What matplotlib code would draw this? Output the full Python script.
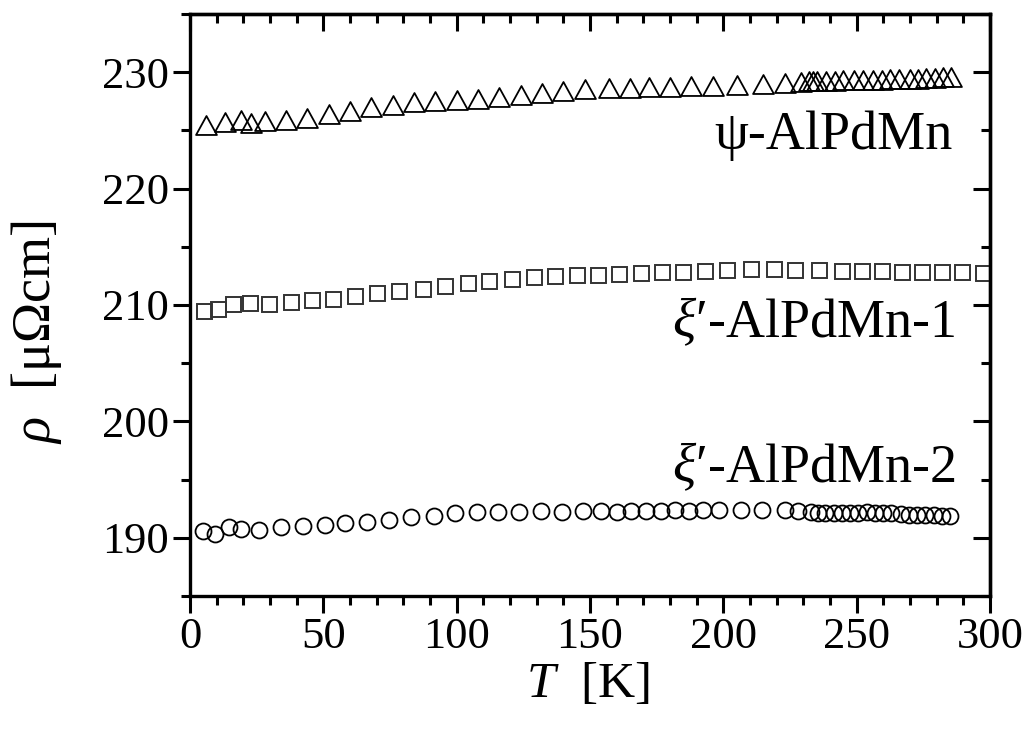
import matplotlib
matplotlib.use("Agg")
import matplotlib.pyplot as plt
from matplotlib.ticker import MultipleLocator
from matplotlib.path import Path

plt.rcParams['font.family'] = ['Liberation Serif', 'DejaVu Serif']
plt.rcParams['mathtext.fontset'] = 'custom'
plt.rcParams['mathtext.rm'] = 'Liberation Serif'
plt.rcParams['mathtext.it'] = 'Liberation Serif:italic'

# psi-AlPdMn (triangles)
T_psi = [6, 13, 19, 23, 28, 36, 44, 52, 60, 68, 76, 84, 92, 100, 108, 116, 124, 132, 140, 148,
         157, 165, 172, 180, 188, 196, 205, 215, 223, 229, 232, 233.5, 235, 238.5, 242, 245,
         249, 252.5, 256, 259.5, 262.5, 266, 270, 273, 276, 279.5, 282.5, 285.5]
rho_psi = [225.5, 225.7, 225.9, 225.65, 225.8, 225.9, 226.1, 226.4, 226.7, 227.0, 227.2, 227.4,
           227.5, 227.6, 227.7, 227.9, 228.0, 228.2, 228.4, 228.55,
           228.6, 228.65, 228.7, 228.75, 228.8, 228.85, 228.9, 229.0, 229.1, 229.15, 229.2, 229.2,
           229.2, 229.25, 229.25, 229.3, 229.3, 229.3, 229.35, 229.35, 229.4, 229.4, 229.45,
           229.45, 229.5, 229.5, 229.55, 229.55]

# xi'-AlPdMn-1 (squares)
T_xi1 = [5.4, 10.6, 16.2, 22.5, 29.5, 37.9, 45.7, 53.7, 61.9, 70.1, 78.3, 87.5, 95.6, 104.4,
         112.1, 120.9, 128.9, 136.9, 145, 153, 161, 169, 177, 185, 193, 201.5, 210.5, 219,
         227, 236, 244.5, 252, 259.5, 267, 274.5, 282, 289.5, 297.5]
rho_xi1 = [209.45, 209.65, 210.1, 210.15, 210.05, 210.3, 210.4, 210.55, 210.8, 211.0, 211.2,
           211.4, 211.6, 211.9, 212.05, 212.25, 212.4, 212.5, 212.55, 212.6, 212.7, 212.75,
           212.8, 212.85, 212.9, 213.0, 213.05, 213.05, 213.0, 213.0, 212.95, 212.9, 212.9,
           212.85, 212.85, 212.8, 212.8, 212.75]

# xi'-AlPdMn-2 (circles)
T_xi2 = [5, 9.5, 14.5, 19, 26, 34, 42.5, 50.5, 58, 66.5, 74.5, 83, 91.5, 99.5, 107.5, 115.5,
         123.5, 131.5, 139.5, 147.5, 154, 160, 165.5, 171, 176.5, 182, 187, 192.5, 198.5,
         206.5, 214.5, 223, 228, 233, 235.5, 238, 241.5, 244.5, 247.5, 250.5, 254, 257, 260,
         263, 266.5, 269.5, 272.5, 275.5, 279, 282, 285]
rho_xi2 = [190.55, 190.3, 190.9, 190.75, 190.7, 190.95, 191.05, 191.1, 191.3, 191.4, 191.55,
           191.75, 191.9, 192.1, 192.25, 192.2, 192.25, 192.3, 192.25, 192.3, 192.3, 192.25,
           192.3, 192.3, 192.3, 192.35, 192.3, 192.35, 192.35, 192.4, 192.4, 192.4, 192.3,
           192.2, 192.15, 192.15, 192.1, 192.1, 192.1, 192.15, 192.2, 192.15, 192.1, 192.1,
           192.05, 192.0, 192.0, 191.95, 191.95, 191.9, 191.9]

labels = ["ψ-AlPdMn", r"$\xi$′-AlPdMn-1", r"$\xi$′-AlPdMn-2"]
label_pos = [(286, 223.4), (287, 207.25), (287, 194.75)]

fig = plt.figure(figsize=(10.26, 7.36), dpi=100)
ax = fig.add_axes([0.1852, 0.1902, 0.7797, 0.7908])

tri = Path([(-1.1, -1.0), (1.1, -1.0), (0.0, 1.0), (-1.1, -1.0)],
           [Path.MOVETO, Path.LINETO, Path.LINETO, Path.CLOSEPOLY])
ax.plot(T_psi, rho_psi, linestyle='none', marker=tri, ms=15, mfc='none', mec='black', mew=1.3)
ax.plot(T_xi1, rho_xi1, linestyle='none', marker='s', ms=10.8, mfc='none', mec='#333333', mew=1.4)
ax.plot(T_xi2, rho_xi2, linestyle='none', marker='o', ms=11.5, mfc='none', mec='black', mew=1.3)

for txt, (x, y) in zip(labels, label_pos):
    ax.text(x, y, txt, ha='right', va='baseline', fontsize=39)

ax.set_xlim(0, 300)
ax.set_ylim(185, 235)
ax.xaxis.set_major_locator(MultipleLocator(50))
ax.xaxis.set_minor_locator(MultipleLocator(10))
ax.yaxis.set_minor_locator(MultipleLocator(5))
ax.set_yticks([190, 200, 210, 220, 230])

for s in ax.spines.values():
    s.set_linewidth(2.4)

ax.tick_params(which='major', direction='out', length=12, width=2.2, labelsize=32, pad=3)
ax.tick_params(which='minor', direction='out', length=6.5, width=2.2)

secx = ax.secondary_xaxis('top')
secx.xaxis.set_major_locator(MultipleLocator(50))
secx.xaxis.set_minor_locator(MultipleLocator(10))
secx.tick_params(which='major', direction='in', length=12, width=2.2, labeltop=False)
secx.tick_params(which='minor', direction='in', length=6.5, width=2.2)
secx.spines['top'].set_linewidth(2.4)

secy = ax.secondary_yaxis('right')
secy.yaxis.set_major_locator(MultipleLocator(10))
secy.yaxis.set_minor_locator(MultipleLocator(5))
secy.tick_params(which='major', direction='in', length=12, width=2.2, labelright=False)
secy.tick_params(which='minor', direction='in', length=6.5, width=2.2)
secy.spines['right'].set_linewidth(2.4)

ax.set_xlabel(r"$T$  [K]", fontsize=37)
ax.xaxis.set_label_coords(0.4975, -0.112)
ax.set_ylabel(r"$\rho$  [μΩcm]", fontsize=39)
ax.yaxis.set_label_coords(-0.157, 0.454)

fig.savefig("out.png", dpi=100)
